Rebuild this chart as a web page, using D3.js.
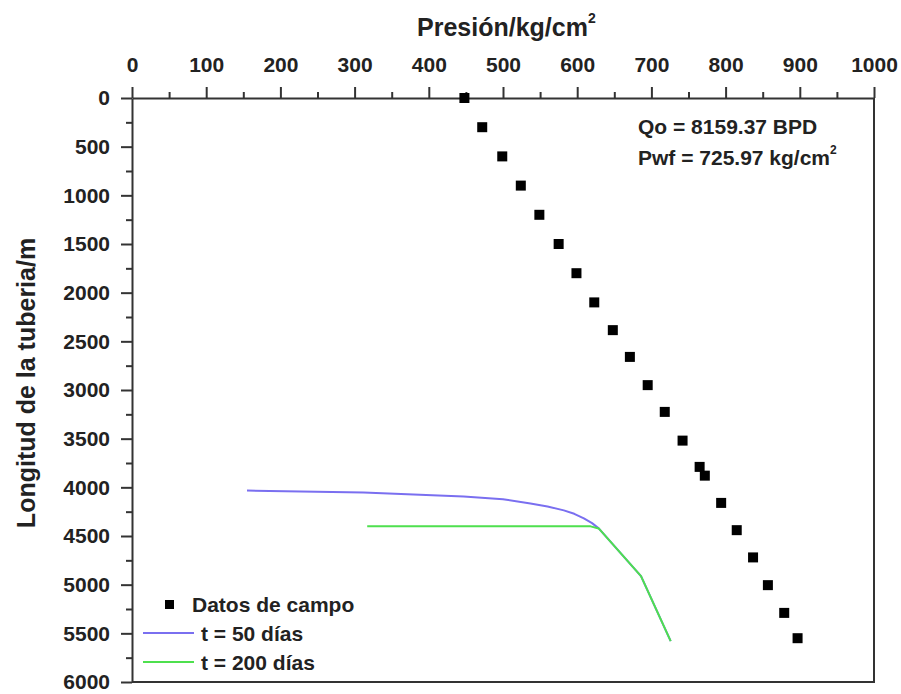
<html>
	<head>
		<title>Presion vs longitud</title>
		<style>
			body { margin: 0; background: #ffffff; }
			text { font-family: "Liberation Sans", Arial, sans-serif; font-weight: bold; fill: #222; }
		</style>
	</head>
	<body>

		<div id="chart"></div>

		<script src="https://cdn.jsdelivr.net/npm/d3@7"></script>
		<script>
			// field data (presion kg/cm2, longitud m)
			var campoPresion = [448, 472, 499, 524, 549, 575, 599, 623, 648, 671, 695, 718, 742, 765, 772, 794, 815, 837, 857, 879, 897];
			var campoLongitud = [0, 300, 600, 900, 1200, 1500, 1800, 2100, 2385, 2660, 2950, 3225, 3520, 3790, 3880, 4160, 4440, 4720, 5005, 5290, 5550];

			// t = 50 dias
			var t50Presion = [155, 312, 447, 500, 537, 560, 582, 596, 609, 620, 629, 686, 726];
			var t50Longitud = [4033, 4053, 4094, 4122, 4166, 4196, 4237, 4272, 4319, 4368, 4422, 4913, 5580];

			// t = 200 dias
			var t200Presion = [317, 618, 629, 686, 726];
			var t200Longitud = [4401, 4401, 4422, 4913, 5580];

			var xTicks = [0, 100, 200, 300, 400, 500, 600, 700, 800, 900, 1000];
			var yTicks = [0, 500, 1000, 1500, 2000, 2500, 3000, 3500, 4000, 4500, 5000, 5500, 6000];

			(function(){
				"use strict";

				var width = 901;
				var height = 694;

				var x = d3.scaleLinear().domain([0, 1000]).range([132, 874]);
				var y = d3.scaleLinear().domain([0, 6000]).range([98, 682]);

				var svg = d3.select("#chart")
					.append("svg")
					.attr("width", width)
					.attr("height", height)
					.style("background", "#ffffff");

				// frame, right and bottom
				svg.append("path")
					.attr("d", "M" + x(0) + "," + y(6000) + "H" + x(1000) + "V" + y(0))
					.attr("fill", "none")
					.attr("stroke", "#333")
					.attr("stroke-width", 2);

				// minor ticks
				svg.append("g")
					.attr("transform", "translate(0," + y(0) + ")")
					.call(d3.axisTop(x).tickValues(d3.range(50, 1000, 100)).tickSize(6).tickFormat(""))
					.call(function(g){ g.select(".domain").remove(); });
				svg.append("g")
					.attr("transform", "translate(" + x(0) + ",0)")
					.call(d3.axisLeft(y).tickValues(d3.range(250, 6000, 500)).tickSize(6).tickFormat(""))
					.call(function(g){ g.select(".domain").remove(); });

				// top axis
				var xAxis = svg.append("g")
					.attr("transform", "translate(0," + y(0) + ")")
					.call(d3.axisTop(x).tickValues(xTicks).tickSize(11).tickSizeOuter(0).tickPadding(15).tickFormat(d3.format("d")));

				// left axis
				var yAxis = svg.append("g")
					.attr("transform", "translate(" + x(0) + ",0)")
					.call(d3.axisLeft(y).tickValues(yTicks).tickSize(11).tickSizeOuter(0).tickPadding(11).tickFormat(d3.format("d")));

				svg.selectAll(".tick line, .domain")
					.attr("stroke", "#333")
					.attr("stroke-width", 2);
				xAxis.selectAll("text").style("font-size", "21px").attr("fill", "#222");
				yAxis.selectAll("text").style("font-size", "21px").attr("fill", "#222").attr("dy", "0.32em");

				// axis titles
				var xt = svg.append("text")
					.attr("x", 417)
					.attr("y", 36)
					.style("font-size", "25px");
				xt.append("tspan").text("Presión/kg/cm");
				xt.append("tspan").attr("dy", -13).style("font-size", "14px").text("2");

				svg.append("text")
					.attr("transform", "translate(35,383) rotate(-90)")
					.attr("text-anchor", "middle")
					.style("font-size", "25px")
					.text("Longitud de la tuberia/m");

				// curves
				var line = d3.line()
					.x(function(d){ return x(d[0]); })
					.y(function(d){ return y(d[1]); });

				svg.append("path")
					.datum(d3.zip(t50Presion, t50Longitud))
					.attr("d", line)
					.attr("fill", "none")
					.attr("stroke", "#7a6ff0")
					.attr("stroke-width", 2)
					.attr("stroke-linejoin", "round");

				svg.append("path")
					.datum(d3.zip(t200Presion, t200Longitud))
					.attr("d", line)
					.attr("fill", "none")
					.attr("stroke", "#4ee04e")
					.attr("stroke-width", 2)
					.attr("stroke-linejoin", "round");

				// field points
				var s = 10;
				svg.append("g")
					.selectAll("rect")
					.data(d3.zip(campoPresion, campoLongitud))
					.enter().append("rect")
						.attr("x", function(d){ return x(d[0]) - s / 2; })
						.attr("y", function(d){ return y(d[1]) - s / 2; })
						.attr("width", s)
						.attr("height", s)
						.attr("fill", "#000");

				// annotation
				svg.append("text")
					.attr("x", 638)
					.attr("y", 134)
					.style("font-size", "21px")
					.text("Qo = 8159.37 BPD");
				var pw = svg.append("text")
					.attr("x", 638)
					.attr("y", 165)
					.style("font-size", "21px");
				pw.append("tspan").text("Pwf = 725.97 kg/cm");
				pw.append("tspan").attr("dy", -11).style("font-size", "12px").text("2");

				// legend
				var legend = svg.append("g");
				legend.append("rect")
					.attr("x", 165).attr("y", 600)
					.attr("width", 9).attr("height", 9)
					.attr("fill", "#000");
				legend.append("text").attr("x", 192).attr("y", 612).style("font-size", "21px").text("Datos de campo");
				legend.append("line")
					.attr("x1", 143).attr("x2", 194).attr("y1", 633).attr("y2", 633)
					.attr("stroke", "#7a6ff0").attr("stroke-width", 2);
				legend.append("text").attr("x", 201).attr("y", 641).style("font-size", "21px").text("t = 50 días");
				legend.append("line")
					.attr("x1", 143).attr("x2", 194).attr("y1", 662).attr("y2", 662)
					.attr("stroke", "#4ee04e").attr("stroke-width", 2);
				legend.append("text").attr("x", 201).attr("y", 670).style("font-size", "21px").text("t = 200 días");

			})();
		</script>

	</body>
</html>
